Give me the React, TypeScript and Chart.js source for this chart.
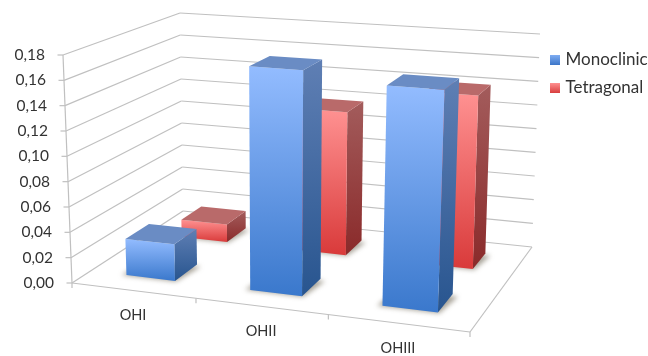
import React, { useEffect, useRef } from "react";
import { Chart, registerables } from "chart.js";

Chart.register(...registerables);

const categories = ["OHI", "OHII", "OHIII"];
const monoclinic = [0.029, 0.175, 0.168];
const tetragonal = [0.015, 0.119, 0.141];
const seriesNames = ["Monoclinic", "Tetragonal"];

type Pt = [number, number];

// Screen corners of the 3D plot box: floor and ceiling, front and back.
const floorFL: Pt = [72, 283];
const floorFR: Pt = [470, 332];
const floorBR: Pt = [532, 247];
const floorBL: Pt = [183, 211];
const roofFL: Pt = [63, 55];
const roofFR: Pt = [479, 86];
const roofBR: Pt = [540, 34];
const roofBL: Pt = [180, 13];

// Perspective foreshortening along the width and the depth of the box.
const widthWarp = 1.105;
const depthWarp = 0.816;
const warp = (t: number, k: number) => t / (t + k * (1 - t));
const mix = (a: Pt, b: Pt, t: number): Pt => [a[0] + (b[0] - a[0]) * t, a[1] + (b[1] - a[1]) * t];

function project(u: number, v: number, w: number): Pt {
  const uu = warp(u, widthWarp);
  const vv = warp(v, depthWarp);
  const floor = mix(mix(floorFL, floorFR, uu), mix(floorBL, floorBR, uu), vv);
  const roof = mix(mix(roofFL, roofFR, uu), mix(roofBL, roofBR, uu), vv);
  return mix(floor, roof, w);
}

function poly(ctx: CanvasRenderingContext2D, pts: Pt[]) {
  ctx.beginPath();
  pts.forEach((p, i) => (i ? ctx.lineTo(p[0], p[1]) : ctx.moveTo(p[0], p[1])));
  ctx.closePath();
}

function segment(ctx: CanvasRenderingContext2D, a: Pt, b: Pt) {
  ctx.beginPath();
  ctx.moveTo(a[0], a[1]);
  ctx.lineTo(b[0], b[1]);
  ctx.stroke();
}

const palettes = [
  {
    front: ["#93bcff", "#3a78cc"],
    side: ["#5f7fb4", "#28558f"],
    top: "#6a8cc4",
    key: ["#7fadf2", "#3c76c8"],
  },
  {
    front: ["#ff9292", "#d93a3a"],
    side: ["#a35c5c", "#8a2a2a"],
    top: "#b96a6a",
    key: ["#ff9090", "#d83e3e"],
  },
];

const depthBands: [number, number][] = [
  [0.143, 0.342],
  [0.643, 0.85],
];

const labelColor = "#333333";
const gridColor = "#c0c0c0";

const box3d = {
  id: "box3d",
  beforeDatasetsDraw(chart: any) {
    const ctx: CanvasRenderingContext2D = chart.ctx;
    const area = chart.chartArea;
    const xScale = chart.scales.x;
    const yScale = chart.scales.y;
    const heightOf = (px: number) => (area.bottom - px) / (area.bottom - area.top);
    const widthOf = (px: number) => (px - area.left) / (area.right - area.left);

    ctx.save();
    ctx.fillStyle = "#ffffff";
    ctx.fillRect(0, 0, chart.width, chart.height);

    // Walls and floor
    ctx.strokeStyle = gridColor;
    ctx.lineWidth = 1.2;
    ctx.fillStyle = labelColor;
    ctx.font = "15.5px Lato";
    ctx.textAlign = "right";
    ctx.textBaseline = "middle";
    yScale.ticks.forEach((tick: any) => {
      const w = heightOf(yScale.getPixelForValue(tick.value));
      const front = project(0, 0, w);
      const corner = project(0, 1, w);
      const right = project(1, 1, w);
      segment(ctx, front, corner);
      segment(ctx, corner, right);
      segment(ctx, front, [front[0] - 5.5, front[1]]);
      ctx.fillText(tick.label, front[0] - 18, front[1]);
    });
    segment(ctx, project(0, 0, 0), project(0, 0, 1));
    segment(ctx, project(0, 0, 0), project(1, 0, 0));
    segment(ctx, project(1, 0, 0), project(1, 1, 0));

    // Category ticks and labels along the front edge
    const slots = categories.length;
    for (let i = 0; i <= slots; i++) {
      const p = project(i / slots, 0, 0);
      segment(ctx, p, [p[0], p[1] + 5]);
    }
    ctx.font = "14.5px Lato";
    ctx.textAlign = "center";
    categories.forEach((name, i) => {
      const p = project(widthOf(xScale.getPixelForValue(i)), 0, 0);
      ctx.fillText(name, p[0], p[1] + 25);
    });

    // Bars, the rear series first
    for (let s = chart.data.datasets.length - 1; s >= 0; s--) {
      const [v0, v1] = depthBands[s];
      const colors = palettes[s];
      chart.getDatasetMeta(s).data.forEach((el: any) => {
        const u0 = widthOf(el.x - el.width / 2);
        const u1 = widthOf(el.x + el.width / 2);
        const w = heightOf(el.y);

        ctx.save();
        ctx.filter = "blur(2.5px)";
        ctx.fillStyle = "rgba(95,85,65,0.55)";
        poly(ctx, [
          project(u0 - 0.012, v0 - 0.005, 0),
          project(u1 + 0.004, v0 - 0.005, 0),
          project(u1 + 0.016, v1 - 0.02, 0),
          project(u0, v1, 0),
        ]);
        ctx.fill();
        ctx.restore();

        const fl = project(u0, v0, 0);
        const fr = project(u1, v0, 0);
        const br = project(u1, v1, 0);
        const tfl = project(u0, v0, w);
        const tfr = project(u1, v0, w);
        const tbr = project(u1, v1, w);
        const tbl = project(u0, v1, w);

        const sideFill = ctx.createLinearGradient(0, tbr[1], 0, fr[1]);
        sideFill.addColorStop(0, colors.side[0]);
        sideFill.addColorStop(1, colors.side[1]);
        ctx.fillStyle = sideFill;
        poly(ctx, [tfr, tbr, br, fr]);
        ctx.fill();

        const frontFill = ctx.createLinearGradient(0, tfl[1], 0, fr[1]);
        frontFill.addColorStop(0, colors.front[0]);
        frontFill.addColorStop(1, colors.front[1]);
        ctx.fillStyle = frontFill;
        poly(ctx, [tfl, tfr, fr, fl]);
        ctx.fill();

        ctx.fillStyle = colors.top;
        poly(ctx, [tfl, tfr, tbr, tbl]);
        ctx.fill();
      });
    }

    // Series key
    ctx.textAlign = "left";
    ctx.font = "17px Lato";
    seriesNames.forEach((name, i) => {
      const y = 60 + i * 28;
      const fill = ctx.createLinearGradient(0, y - 5, 0, y + 5);
      fill.addColorStop(0, palettes[i].key[0]);
      fill.addColorStop(1, palettes[i].key[1]);
      ctx.fillStyle = fill;
      ctx.fillRect(550, y - 5, 10, 10);
      ctx.fillStyle = labelColor;
      ctx.fillText(name, 565.5, y);
    });
    ctx.restore();
    return false;
  },
};

export default function App() {
  const ref = useRef<HTMLCanvasElement>(null);

  useEffect(() => {
    document.body.style.margin = "0";
    const chart = new Chart(ref.current as HTMLCanvasElement, {
      type: "bar",
      data: {
        labels: categories,
        datasets: [
          { label: seriesNames[0], data: monoclinic, backgroundColor: palettes[0].front[1] },
          { label: seriesNames[1], data: tetragonal, backgroundColor: palettes[1].front[1] },
        ],
      },
      options: {
        animation: false,
        responsive: false,
        layout: { padding: 0 },
        datasets: { bar: { grouped: false, categoryPercentage: 1, barPercentage: 0.4 } },
        plugins: { legend: { display: false }, tooltip: { enabled: false } },
        scales: {
          x: { display: false },
          y: {
            display: false,
            min: 0,
            max: 0.18,
            ticks: {
              stepSize: 0.02,
              callback: (value: any) => Number(value).toFixed(2).replace(".", ","),
            },
          },
        },
      } as any,
      plugins: [box3d],
    });
    return () => chart.destroy();
  }, []);

  return (
    <div style={{ width: 648, height: 356, overflow: "hidden" }}>
      <canvas ref={ref} width={648} height={356} style={{ display: "block" }} />
    </div>
  );
}
